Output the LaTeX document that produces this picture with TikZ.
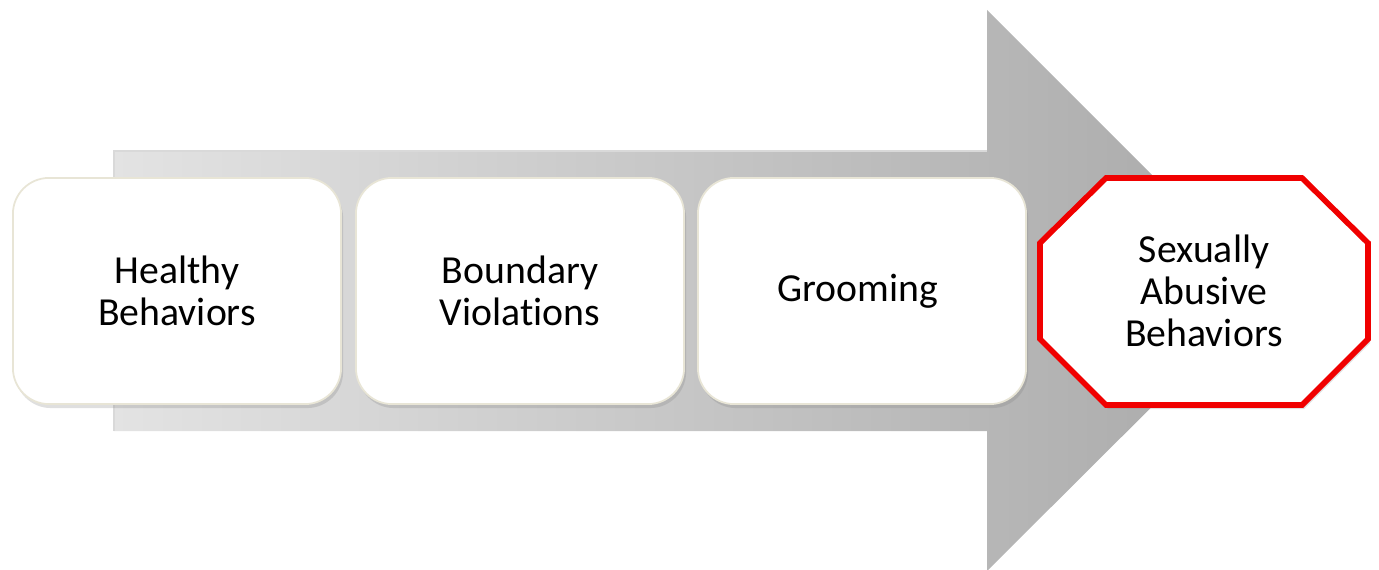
\documentclass[tikz,border=0pt]{standalone}
\usepackage{fontspec}
\setmainfont[Ligatures=NoCommon]{Carlito}
\usepackage{xcolor}
\usetikzlibrary{shadows}

\definecolor{rimbeige}{HTML}{E8E5D6}
\definecolor{alertred}{HTML}{F00000}

\tikzset{
  stagebox/.style={draw=rimbeige, line width=0.5pt, fill=white,
    rounded corners=0.36cm, minimum width=3.28cm, minimum height=2.26cm,
    align=center, font=\fontsize{11.3}{11.9}\selectfont,
    drop shadow={shadow xshift=0.02cm, shadow yshift=-0.04cm, opacity=0.25}},
  endbox/.style={minimum width=3.28cm, minimum height=2.28cm, inner sep=0pt,
    align=center, font=\fontsize{11.3}{11.9}\selectfont},
  octrim/.style={draw=alertred, line width=1.6pt, fill=white,
    line join=miter,
    drop shadow={shadow xshift=0.02cm, shadow yshift=-0.04cm, opacity=0.25}}
}

\begin{document}
\begin{tikzpicture}[x=0.01cm, y=-0.01cm]

\useasboundingbox (0,0) rectangle (1379,570);

% big arrow behind the stages
\shade[left color=black!11, right color=black!34]
(114,151) -- (987,151) -- (987,10) -- (1268,291)
-- (987,571) -- (987,431) -- (114,431) -- cycle;
\draw[white!85!black, line width=0.6pt] (114,431) -- (114,151) -- (987,151);

\foreach \name/\x/\txt in {
healthy/177/{Healthy\\Behaviors},
boundary/520/{Boundary\\Violations},
grooming/862/{Grooming}
}{
    \node[stagebox] (\name) at (\x,291) {\txt};
}

% octagon for the last stage
\filldraw[octrim]
(1106,178) -- (1302,178) -- (1368,243) -- (1368,339)
-- (1302,405) -- (1106,405) -- (1040,339) -- (1040,243) -- cycle;
\node[endbox] (abuse) at (1204,291) {Sexually\\Abusive\\Behaviors};

\end{tikzpicture}
\end{document}
